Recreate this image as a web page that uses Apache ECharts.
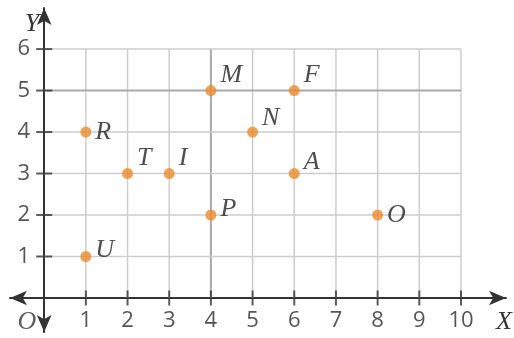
<!DOCTYPE html>
<html>
<head>
<meta charset="utf-8">
<script src="https://cdn.jsdelivr.net/npm/echarts@6/dist/echarts.min.js"></script>
<style>html,body{margin:0;padding:0;background:#fff}#c{width:514px;height:338px}</style>
</head>
<body>
<div id="c"></div>
<script>
// Data
const pointNames = ['U', 'R', 'T', 'I', 'M', 'N', 'F', 'A', 'P', 'O'];
const pointX = [1, 1, 2, 3, 4, 5, 6, 6, 4, 8];
const pointY = [1, 4, 3, 3, 5, 4, 5, 3, 2, 2];
const xTicks = [1, 2, 3, 4, 5, 6, 7, 8, 9, 10];
const yTicks = [1, 2, 3, 4, 5, 6];
const xMax = 10, yMax = 6;

// Style: vertical nudge of each point's letter (px)
const labelShift = {U: -6, R: 0, T: -15, I: -15, M: -15, N: -14, F: -15, A: -11, P: -6, O: 0};
const strongX = 4, strongY = 5;

const series = [];
// grid lines
xTicks.forEach(k => {
  const strong = k === strongX;
  series.push({type: 'line', data: [[k, 0], [k, yMax]], symbol: 'none', silent: true, z: 1,
    lineStyle: {color: strong ? '#a9a9a9' : '#cdcdcd', width: strong ? 2 : 1.5}});
});
yTicks.forEach(k => {
  const strong = k === strongY;
  series.push({type: 'line', data: [[0, k], [xMax, k]], symbol: 'none', silent: true, z: 1,
    lineStyle: {color: strong ? '#a9a9a9' : '#cdcdcd', width: strong ? 2 : 1.5}});
});
// crossing tick marks
series.push({type: 'scatter', data: xTicks.map(k => [k, 0]), symbol: 'rect', symbolSize: [2, 15],
  itemStyle: {color: '#333'}, z: 6});
series.push({type: 'scatter', data: yTicks.map(k => [0, k]), symbol: 'rect', symbolSize: [16, 2],
  itemStyle: {color: '#333'}, z: 6});
// origin label
series.push({type: 'scatter', data: [[0, 0]], symbolSize: 0, silent: true,
  label: {show: true, formatter: 'O', position: 'left', offset: [-3, 24],
    fontFamily: 'Liberation Serif', fontStyle: 'italic', fontSize: 26, color: '#333'}});
// points
series.push({type: 'scatter', symbol: 'circle', symbolSize: 11, z: 5,
  itemStyle: {color: '#ec8a2c'},
  data: pointNames.map((n, i) => ({name: n, value: [pointX[i], pointY[i]],
    label: {offset: [0, labelShift[n]]}})),
  label: {show: true, formatter: p => p.name, position: 'right', distance: 4,
    fontFamily: 'Liberation Serif', fontStyle: 'italic', fontSize: 26, color: '#222'}});

const axisFont = {fontFamily: 'Open Sans', fontSize: 22, color: '#555'};
const chart = echarts.init(document.getElementById('c'));
chart.setOption({
  animation: false,
  grid: {left: 10, right: 8, top: 8, bottom: 6, containLabel: false, outerBoundsMode: 'none'},
  xAxis: {
    type: 'value', min: -0.82, max: 11.08,
    axisLine: {onZero: true, symbol: ['arrow', 'arrow'], symbolSize: [11, 17], lineStyle: {color: '#333', width: 2}},
    axisTick: {show: false},
    splitLine: {show: false},
    axisLabel: Object.assign({customValues: xTicks, margin: -22}, axisFont),
    name: 'X', nameLocation: 'end', nameGap: 6,
    nameTextStyle: {fontFamily: 'Liberation Serif', fontStyle: 'italic', fontSize: 26, color: '#333',
      align: 'right', verticalAlign: 'top', padding: [11, 0, 0, 0]}
  },
  yAxis: {
    type: 'value', min: -0.82, max: 6.99,
    axisLine: {onZero: true, symbol: ['arrow', 'arrow'], symbolSize: [11, 17], lineStyle: {color: '#333', width: 2}},
    axisTick: {show: false},
    splitLine: {show: false},
    axisLabel: Object.assign({customValues: yTicks, margin: -20}, axisFont),
    name: 'Y', nameLocation: 'end', nameGap: -3,
    nameTextStyle: {fontFamily: 'Liberation Serif', fontStyle: 'italic', fontSize: 26, color: '#333',
      align: 'right', verticalAlign: 'top', padding: [0, 5, 0, 0]}
  },
  series: series
});
</script>
</body>
</html>
